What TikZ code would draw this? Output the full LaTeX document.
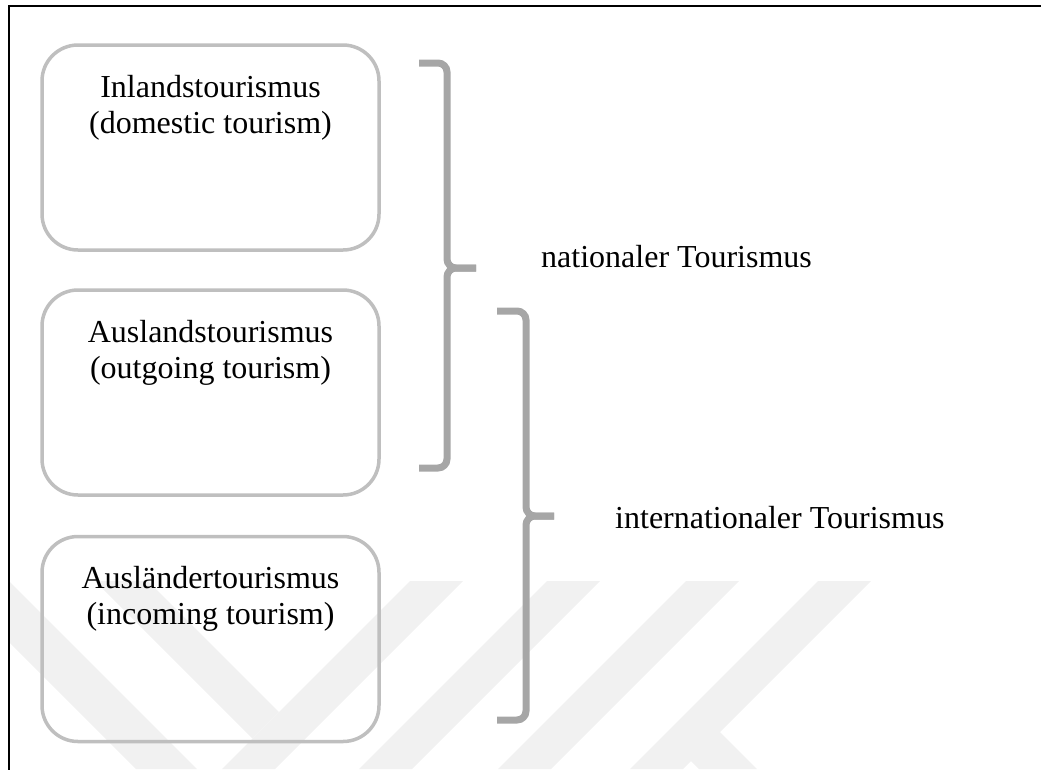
\documentclass[tikz,border=0pt]{standalone}
\usepackage{fontspec}
\setmainfont{Liberation Serif}
\definecolor{boxgray}{HTML}{BFBFBF}
\definecolor{bracegray}{HTML}{A6A6A6}
\definecolor{wmgray}{HTML}{F1F1F1}
\tikzset{
  tbox/.style={draw=boxgray, line width=3.5pt, rounded corners=36pt,
    minimum width=337pt, minimum height=205pt, inner sep=0pt},
  btext/.style={font=\fontsize{32}{36}\selectfont, align=center, inner sep=0pt, anchor=north},
  ltext/.style={font=\fontsize{32}{36}\selectfont, inner sep=0pt, anchor=base west},
  bracebar/.style={draw=bracegray, line width=7pt, rounded corners=9pt},
  wm/.style={fill=wmgray, draw=none},
  frameline/.style={draw=black, line width=1.4pt}
}
\begin{document}
\begin{tikzpicture}[x=1pt,y=-1pt]
\useasboundingbox (0,0) rectangle (1041,769);
% watermark
\begin{scope}
\clip (9,0) rectangle (1041,769);
\fill[wm] (-52,581) -- (9,581) -- (197,769) -- (136,769) -- cycle;
\fill[wm] (95,581) -- (148,581) -- (279,712) -- (252.5,738.5) -- cycle;
\fill[wm] (410,581) -- (463,581) -- (275,769) -- (222,769) -- cycle;
\fill[wm] (547,581) -- (600,581) -- (412,769) -- (359,769) -- cycle;
\fill[wm] (686,581) -- (739,581) -- (551,769) -- (498,769) -- cycle;
\fill[wm] (818,581) -- (871,581) -- (720,732) -- (757,769) -- (699,769) -- (691,761) -- (683,769) -- (630,769) -- cycle;
\end{scope}
% frame
\draw[frameline] (9,780) -- (9,6) -- (1050,6);
% boxes
\node[tbox] (b1) at (210.5,147.5) {};
\node[tbox] (b2) at (210.5,392.5) {};
\node[tbox] (b3) at (210.5,639) {};
\node[btext] (t1) at ([yshift=-32pt]b1.north) {Inlandstourismus\\(domestic tourism)};
\node[btext] (t2) at ([yshift=-32pt]b2.north) {Auslandstourismus\\(outgoing tourism)};
\node[btext] (t3) at ([yshift=-31pt]b3.north) {Ausländertourismus\\(incoming tourism)};
% braces
\coordinate (p1a) at (419,63);
\coordinate (p1b) at (447,63);
\coordinate (p1c) at (447,268);
\coordinate (p1d) at (476,268);
\coordinate (p1e) at (447,468);
\coordinate (p1f) at (419,468);
\draw[bracebar] (p1a) -- (p1b) -- (p1c) -- (p1d);
\draw[bracebar] (p1d) -- (p1c) -- (p1e) -- (p1f);
\coordinate (p2a) at (497,311);
\coordinate (p2b) at (526,311);
\coordinate (p2c) at (526,516);
\coordinate (p2d) at (554,516);
\coordinate (p2e) at (526,720);
\coordinate (p2f) at (497,720);
\draw[bracebar] (p2a) -- (p2b) -- (p2c) -- (p2d);
\draw[bracebar] (p2d) -- (p2c) -- (p2e) -- (p2f);
% labels
\node[ltext] (nat) at (541,267) {nationaler Tourismus};
\node[ltext] (int) at (615,528) {internationaler Tourismus};
\end{tikzpicture}
\end{document}
